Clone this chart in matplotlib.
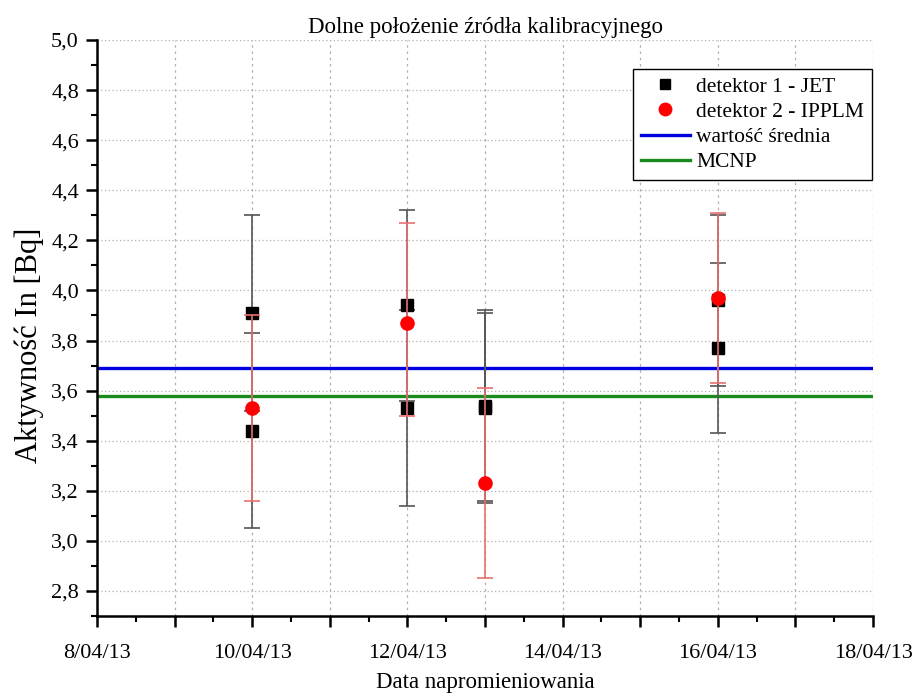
import datetime as dt
import matplotlib
matplotlib.use("Agg")
import matplotlib.pyplot as plt
import matplotlib.dates as mdates
from matplotlib.lines import Line2D
from matplotlib.ticker import FuncFormatter, MultipleLocator

plt.rcParams['font.family'] = ['Liberation Serif', 'DejaVu Serif']

# detektor 1 - JET
jet_dates = [dt.datetime(2013, 4, 10), dt.datetime(2013, 4, 10),
             dt.datetime(2013, 4, 12), dt.datetime(2013, 4, 12),
             dt.datetime(2013, 4, 13), dt.datetime(2013, 4, 13),
             dt.datetime(2013, 4, 16), dt.datetime(2013, 4, 16)]
jet_vals = [3.91, 3.44, 3.94, 3.53, 3.53, 3.54, 3.96, 3.77]
jet_err = [0.39, 0.39, 0.38, 0.39, 0.38, 0.38, 0.34, 0.34]

# detektor 2 - IPPLM
ipplm_dates = [dt.datetime(2013, 4, 10), dt.datetime(2013, 4, 12),
               dt.datetime(2013, 4, 13), dt.datetime(2013, 4, 16)]
ipplm_vals = [3.53, 3.87, 3.23, 3.97]
ipplm_err_lo = [0.37, 0.37, 0.38, 0.34]
ipplm_err_hi = [0.37, 0.40, 0.38, 0.34]

mean_value = 3.69
mcnp_value = 3.58

fig = plt.figure(figsize=(9.19, 6.95), dpi=100)
ax = fig.add_axes([0.1055, 0.1137, 0.8445, 0.8287])

ax.axhline(mean_value, color='#0000e0', lw=2.4, zorder=2)
ax.axhline(mcnp_value, color='#1a8a1a', lw=2.4, zorder=2)

ax.errorbar(jet_dates, jet_vals, yerr=jet_err, fmt='s', color='black',
            ecolor='#555555', elinewidth=1.2, capsize=5.5, capthick=1.2,
            markersize=8.5, zorder=3)
ax.errorbar(ipplm_dates, ipplm_vals, yerr=[ipplm_err_lo, ipplm_err_hi], fmt='o',
            color='red', ecolor='#e87070', elinewidth=1.2, capsize=5.5, capthick=1.2,
            markersize=9.5, zorder=4)

ax.set_xlim(dt.datetime(2013, 4, 8), dt.datetime(2013, 4, 18))
ax.set_ylim(2.7, 5.0)

ax.xaxis.set_major_locator(mdates.DayLocator())
ax.xaxis.set_minor_locator(mdates.HourLocator(byhour=[12]))


def date_label(x, pos):
    d = mdates.num2date(x)
    if d.day % 2:
        return ''
    return f"{d.day}/{d.month:02d}/{d.year % 100:02d}"


ax.xaxis.set_major_formatter(FuncFormatter(date_label))
ax.yaxis.set_major_locator(MultipleLocator(0.2))
ax.yaxis.set_minor_locator(MultipleLocator(0.1))
ax.yaxis.set_major_formatter(FuncFormatter(lambda v, p: f"{v:.1f}".replace('.', ',')))

for side in ('top', 'right'):
    ax.spines[side].set_visible(False)
for side in ('left', 'bottom'):
    ax.spines[side].set_linewidth(1.8)

ax.tick_params(which='major', direction='out', length=8, width=1.8, labelsize=16, pad=5)
ax.tick_params(axis='x', which='major', pad=12)
ax.tick_params(which='minor', direction='out', length=4.5, width=1.5)

ax.grid(axis='y', which='major', color='#b0b0b0', linestyle=(0, (1, 2)), lw=0.9)
ax.grid(axis='x', which='major', color='#b0b0b0', linestyle=(0, (2, 3)), lw=0.9)
ax.set_axisbelow(True)

ax.set_title('Dolne położenie źródła kalibracyjnego', fontsize=16.5, pad=5)
ax.set_xlabel('Data napromieniowania', fontsize=16.5, labelpad=7)
ax.set_ylabel('Aktywność In [Bq]', fontsize=22, labelpad=5)
ax.yaxis.label.set_y(0.47)

# legend shows only the markers and lines, no error bars
handles = [
    Line2D([], [], ls='none', marker='s', color='black', markersize=7),
    Line2D([], [], ls='none', marker='o', color='red', markersize=9),
    Line2D([], [], color='#0000e0', lw=2.4),
    Line2D([], [], color='#1a8a1a', lw=2.4),
]
labels = ['detektor 1 - JET', 'detektor 2 - IPPLM', 'wartość średnia', 'MCNP']
leg = ax.legend(handles, labels, loc='upper right', bbox_to_anchor=(0.9985, 0.9495),
                fontsize=15.5, frameon=True, fancybox=False, edgecolor='black',
                framealpha=1, handlelength=2.3, handletextpad=0.3, borderpad=0.35,
                borderaxespad=0, labelspacing=0.24)
leg.get_frame().set_linewidth(1.0)

fig.savefig('out.png', dpi=100)
